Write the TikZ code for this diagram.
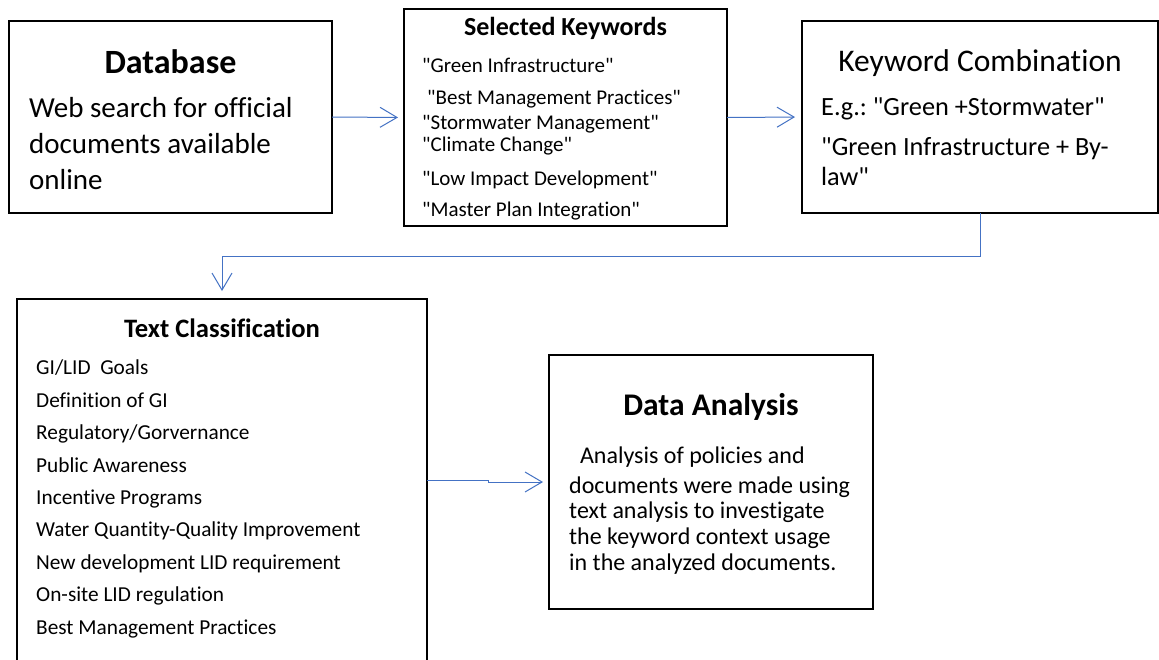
\documentclass[tikz,border=0pt]{standalone}
\usepackage{fontspec}
\setmainfont{Carlito}[Ligatures={TeXOff,NoCommon}]
\usetikzlibrary{arrows.meta}
\definecolor{arrowblue}{HTML}{4472C4}
\tikzset{
  box/.style={draw=black, line width=2pt, fill=white, anchor=north west, inner sep=0pt, outer sep=0pt},
  conn/.style={draw=arrowblue, line width=1pt, -{Straight Barb[length=17pt,width=20pt]}},
  ttl/.style={anchor=base, inner sep=0pt, font=\bfseries\fontsize{#1}{#1}\selectfont},
  ttlr/.style={anchor=base, inner sep=0pt, font=\fontsize{#1}{#1}\selectfont},
  txt/.style={anchor=base west, inner sep=0pt, font=\fontsize{#1}{#1}\selectfont},
}
\frenchspacing
\begin{document}
\frenchspacing
\begin{tikzpicture}[x=1pt,y=-1pt]
\useasboundingbox (0,0) rectangle (1159,659);
\clip (0,0) rectangle (1159,659);
\fill[white] (0,0) rectangle (1159,659);
% boxes
\node[box, minimum width=323pt, minimum height=192pt] (db) at (9,21) {};
\node[box, minimum width=323pt, minimum height=217pt] (sk) at (404,9) {};
\node[box, minimum width=356pt, minimum height=192pt] (kc) at (802,21) {};
\node[box, minimum width=410pt, minimum height=420pt] (tc) at (17,299) {};
\node[box, minimum width=324pt, minimum height=254pt] (da) at (549,355) {};
% Database
\node[ttl=34pt] (dbt) at (170.5,73) {Database};
\node[txt=29pt] (db1) at (29,117) {Web search for official};
\node[txt=29pt] (db2) at (29,153) {documents available};
\node[txt=29pt] (db3) at (29,189) {online};
% Selected keywords
\node[ttl=26pt] (skt) at (565.5,35.5) {Selected Keywords};
\node[txt=21pt] (sk1) at (422,72.7) {"Green Infrastructure"};
\node[txt=21pt] (sk2) at (427,104.7) {"Best Management Practices"};
\node[txt=21pt] (sk3) at (422,129.7) {"Stormwater Management"};
\node[txt=21pt] (sk4) at (422,151.7) {"Climate Change"};
\node[txt=21pt] (sk5) at (422,185.7) {"Low Impact Development"};
\node[txt=21pt] (sk6) at (422,216.7) {"Master Plan Integration"};
% Keyword combination
\node[ttlr=31.5pt] (kct) at (980,71) {Keyword Combination};
\node[txt=26.3pt] (kc1) at (821,115.4) {E.g.: "Green +Stormwater"};
\node[txt=26.3pt] (kc2) at (821,155.4) {"Green Infrastructure + By-};
\node[txt=26.3pt] (kc3) at (821,185) {law"};
% Text classification
\node[ttl=26.6pt] (tct) at (222,337.5) {Text Classification};
\node[txt=21.3pt] (tc1) at (36,374.8) {GI/LID\ \ Goals};
\node[txt=21.3pt] (tc2) at (36,407.2) {Definition of GI};
\node[txt=21.3pt] (tc3) at (36,439.6) {Regulatory/Gorvernance};
\node[txt=21.3pt] (tc4) at (36,472.0) {Public Awareness};
\node[txt=21.3pt] (tc5) at (36,504.4) {Incentive Programs};
\node[txt=21.3pt] (tc6) at (36,536.8) {Water Quantity-Quality Improvement};
\node[txt=21.3pt] (tc7) at (36,569.2) {New development LID requirement};
\node[txt=21.3pt] (tc8) at (36,601.6) {On-site LID regulation};
\node[txt=21.3pt] (tc9) at (36,634.0) {Best Management Practices};
% Data analysis
\node[ttl=31.5pt] (dat) at (711,415) {Data Analysis};
\node[txt=24pt] (da1) at (569,463.7) {\ \ Analysis of policies and};
\node[txt=24pt] (da2) at (569,493.7) {documents were made using};
\node[txt=24pt] (da3) at (569,518.7) {text analysis to investigate};
\node[txt=24pt] (da4) at (569,544.7) {the keyword context usage};
\node[txt=24pt] (da5) at (569,570.7) {in the analyzed documents.};
% connectors
\draw[conn, shorten >=6pt] (db.east) -- (sk.west);
\draw[conn, shorten >=7pt] (sk.east) -- (kc.west);
\coordinate (turn) at (222,256);
\draw[conn, shorten >=8pt] (kc.south) |- (turn) -- (tc.north);
\coordinate (jog) at (488,480);
\draw[conn, shorten >=6pt] (tc.east |- jog) -- (jog) -- (jog |- da.west) -- (da.west);
\end{tikzpicture}
\end{document}
